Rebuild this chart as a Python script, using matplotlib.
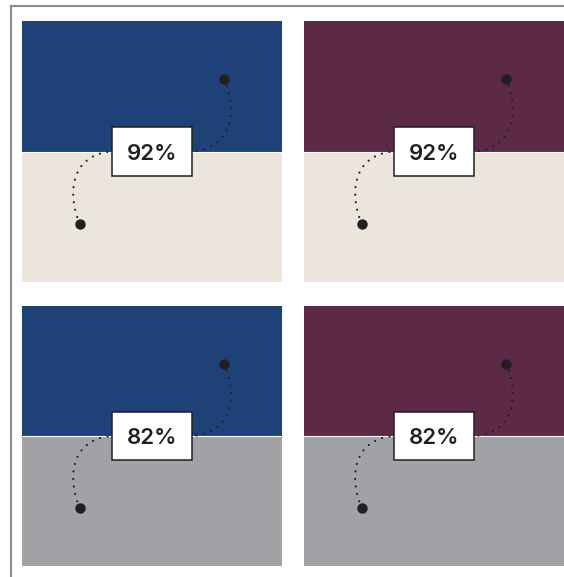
import matplotlib
matplotlib.use("Agg")
import matplotlib.pyplot as plt
from matplotlib.path import Path
from matplotlib.patches import PathPatch, Rectangle
from matplotlib.lines import Line2D

# Chart data
LABELS = ["92%", "92%", "82%", "82%"]
TOP_COLORS = ["#1e4178", "#5c2a46", "#1e4178", "#5c2a46"]
BOTTOM_COLORS = ["#ece5dc", "#ece5dc", "#a1a2a6", "#a1a2a6"]
DOT_START = (0.777, 0.778)   # upper dot, axes fraction
DOT_END = (0.223, 0.222)     # lower dot, axes fraction

W, H = 564, 577
INK = "#231f20"

# Panel positions in pixels: (left, top, width, height)
PANELS = [(22, 21, 260, 261), (304, 21, 260, 261),
          (22, 306, 260, 260), (304, 306, 260, 260)]


def connector(ax, p0, p1, p2, p3):
    path = Path([p0, p1, p2, p3], [Path.MOVETO, Path.CURVE4, Path.CURVE4, Path.CURVE4])
    patch = PathPatch(path, facecolor="none", edgecolor=INK, lw=1.6,
                      linestyle=(0, (0.01, 3.4)), capstyle="round", zorder=3)
    ax.add_patch(patch)


def main():
    fig = plt.figure(figsize=(W / 100, H / 100), dpi=100)
    fig.patch.set_facecolor("white")

    for i, (x, y, w, h) in enumerate(PANELS):
        ax = fig.add_axes([x / W, 1 - (y + h) / H, w / W, h / H])
        ax.set_xlim(0, 1)
        ax.set_ylim(0, 1)
        ax.axis("off")

        ax.add_patch(Rectangle((0, 0.5), 1, 0.5, color=TOP_COLORS[i], lw=0, zorder=1))
        ax.add_patch(Rectangle((0, 0), 1, 0.5, color=BOTTOM_COLORS[i], lw=0, zorder=1))
        ax.axhline(0.5, color="white", lw=0.8, zorder=2)

        # dotted curves (lower one is the upper one rotated 180 deg about the centre)
        sx, sy = DOT_START
        connector(ax, (sx, sy), (0.823, 0.678), (0.823, 0.513), (0.655, 0.5))
        ex, ey = DOT_END
        connector(ax, (ex, ey), (1 - 0.823, 1 - 0.678), (1 - 0.823, 1 - 0.513), (0.345, 0.5))

        ax.plot([sx, ex], [sy, ey], "o", color=INK, ms=6.5, ls="none", zorder=4)

        ax.add_patch(Rectangle((0.345, 0.408), 0.31, 0.184, facecolor="white",
                               edgecolor=INK, lw=1.1, zorder=5))
        ax.text(0.5, 0.492, LABELS[i], ha="center", va="center", fontsize=16,
                fontfamily="Inter", fontweight="semibold", color=INK, zorder=6)

    # frame lines at the top and left
    ytop = 1 - 5.5 / H
    xl = 10.5 / W
    fig.add_artist(Line2D([xl, 1], [ytop, ytop], color="#8c8c8c", lw=1.5))
    fig.add_artist(Line2D([xl, xl], [0, ytop], color="#8c8c8c", lw=1.5))

    fig.savefig("out.png", dpi=100)


if __name__ == "__main__":
    main()
